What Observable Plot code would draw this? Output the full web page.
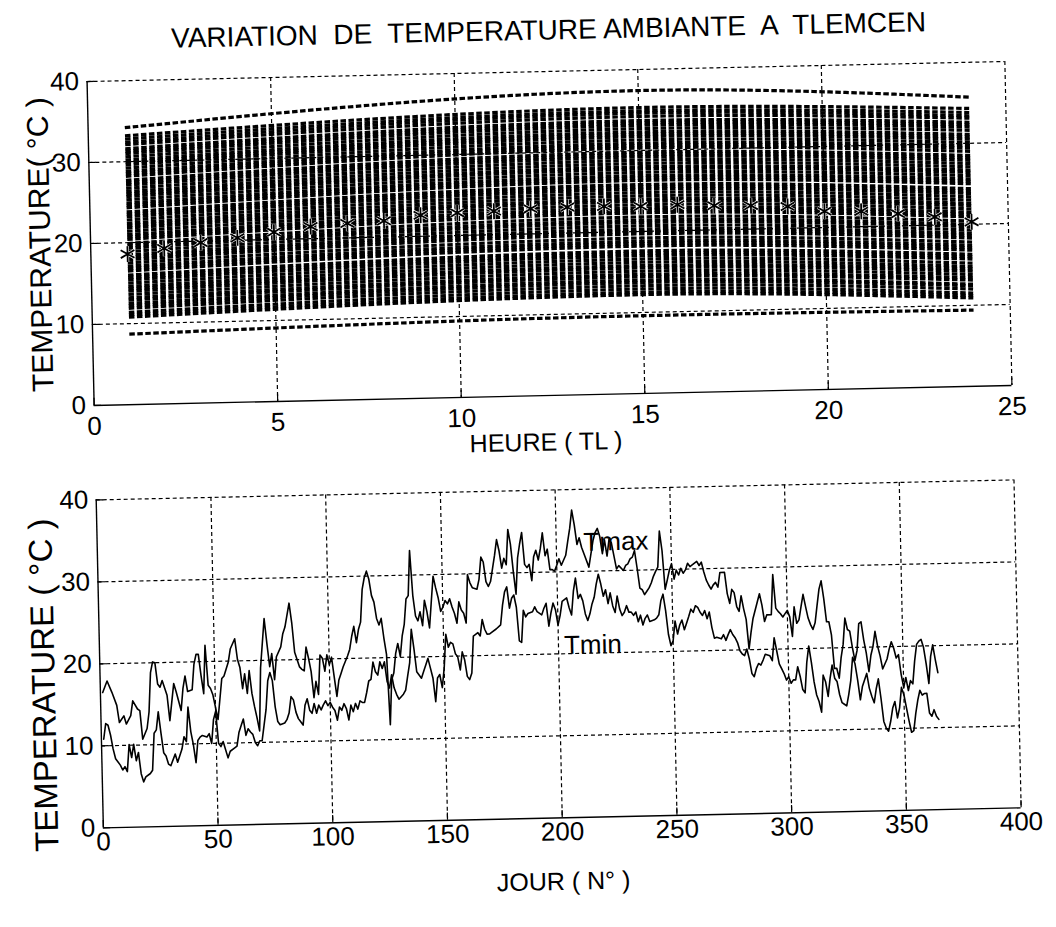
<!DOCTYPE html>
<html>
<head>
<meta charset="utf-8">
<script src="https://cdn.jsdelivr.net/npm/d3@7"></script>
<script src="https://cdn.jsdelivr.net/npm/@observablehq/plot@0.6"></script>
<style>
  html, body { margin: 0; padding: 0; background: #fff; }
  body { width: 1056px; height: 927px; overflow: hidden; }
  #page {
    position: relative; width: 1056px; height: 927px; background: #fff;
    transform: rotate(-1.25deg); transform-origin: 528px 463px;
    font-family: "Liberation Sans", Arial, Helvetica, sans-serif; color: #000;
  }
  #title {
    position: absolute; top: 15px; left: 30px; width: 1056px; text-align: center;
    font-size: 28px; line-height: 32px; white-space: pre;
  }
  #haut { position: absolute; top: 50px; left: 0; }
  #bas { position: absolute; top: 452px; left: 0; }
</style>
</head>
<body>
<div id="page">
  <div id="title">VARIATION  DE  TEMPERATURE AMBIANTE  A  TLEMCEN</div>
  <div id="haut"></div>
  <div id="bas"></div>
</div>
<script>
// ---- Panel 1: hourly temperatures (one dashed curve per day) ----
const heures = [1, 2, 3, 4, 5, 6, 7, 8, 9, 10, 11, 12, 13, 14, 15, 16, 17, 18, 19, 20, 21, 22, 23, 24];
const moyenneHoraire = [18.6, 19.2, 19.8, 20.3, 20.9, 21.5, 21.8, 22.0, 22.6, 22.8, 22.9, 23.1,
                        23.2, 23.2, 23.1, 23.2, 23.0, 22.9, 22.7, 22.0, 21.9, 21.5, 21.0, 20.3];

// Daily curves, read at 1 h, 15 h and 24 h
const heuresReleve = [1, 15, 24];
const temp1h = [8.7,
  10.8, 11.1, 11.4, 11.9, 12.2, 12.5, 12.9, 13.2, 13.6, 14.0, 14.3, 14.6, 15.0, 15.4, 15.7, 16.0,
  16.5, 16.8, 17.1, 17.5, 17.9, 18.2, 18.5, 18.9, 19.3, 19.6, 19.9, 20.4, 20.7, 21.0, 21.4, 21.8,
  22.1, 22.4, 22.8, 23.2, 23.5, 23.8, 24.3, 24.6, 24.9, 25.3, 25.7, 26.0, 26.3, 26.7, 27.1, 27.4,
  27.7, 28.2, 28.5, 28.8, 29.2, 29.6, 29.9, 30.2, 30.6, 31.0, 31.3, 31.6, 32.1, 32.4, 32.8, 33.2,
  34.2];
const temp15h = [9.6,
  12.2, 12.5, 12.9, 13.3, 13.7, 14.0, 14.4, 14.7, 15.1, 15.5, 15.8, 16.2, 16.6, 17.0, 17.3, 17.6,
  18.2, 18.5, 18.8, 19.2, 19.7, 20.0, 20.3, 20.7, 21.1, 21.4, 21.8, 22.3, 22.6, 22.9, 23.3, 23.7,
  24.0, 24.4, 24.8, 25.2, 25.5, 25.8, 26.3, 26.6, 26.9, 27.3, 27.7, 28.0, 28.4, 28.8, 29.2, 29.5,
  29.8, 30.3, 30.6, 30.9, 31.3, 31.7, 32.0, 32.3, 32.7, 33.1, 33.4, 33.7, 34.2, 34.6, 34.9, 35.3,
  37.4];
const temp24h = [9.4,
  10.9, 11.2, 11.5, 12.0, 12.4, 12.6, 13.1, 13.4, 13.8, 14.2, 14.5, 14.8, 15.2, 15.7, 16.0, 16.3,
  16.8, 17.1, 17.4, 17.8, 18.3, 18.6, 18.9, 19.3, 19.7, 20.0, 20.4, 20.9, 21.2, 21.5, 21.9, 22.3,
  22.6, 23.0, 23.4, 23.8, 24.1, 24.4, 25.0, 25.3, 25.6, 26.0, 26.4, 26.7, 27.1, 27.5, 27.9, 28.2,
  28.5, 29.0, 29.4, 29.7, 30.1, 30.5, 30.8, 31.1, 31.6, 32.0, 32.3, 32.6, 33.1, 33.4, 33.8, 34.3,
  35.7];

// ---- Panel 2: daily Tmax / Tmin over the year ----
const jourTmax = [1,3,5,7,8,10,11,13,14,16,17,18,20,21,22,23,24,25,26,27,29,30,32,33,35,36,37,38,40,41,
  42,43,44,45,46,47,48,49,51,53,54,56,57,59,60,61,62,63,64,65,66,67,68,69,70,72,73,74,75,76,
  77,79,80,81,83,84,85,87,88,89,90,91,92,93,94,95,96,97,98,99,100,101,102,103,104,105,106,108,109,110,
  111,112,113,114,115,116,117,118,119,120,121,122,123,124,125,126,127,128,129,130,131,132,133,134,135,136,137,138,139,140,
  141,142,143,144,145,146,147,148,149,150,151,152,153,154,155,156,157,158,159,160,161,162,163,165,166,167,168,169,170,171,
  172,173,174,175,176,177,178,179,180,181,182,183,184,185,186,187,188,189,190,191,192,193,194,195,196,197,198,199,200,201,
  202,204,205,206,207,208,209,210,211,212,214,215,216,217,218,219,220,221,222,223,224,225,226,227,229,230,231,232,233,234,
  235,236,237,238,239,240,241,242,243,244,245,246,247,248,249,250,251,252,253,254,255,256,257,258,260,261,262,263,264,265,
  266,267,268,269,270,271,273,274,275,276,277,278,279,280,281,282,283,284,285,287,288,289,290,291,293,294,295,296,297,298,
  299,300,301,302,303,304,305,306,307,308,309,310,311,312,313,314,315,316,317,318,319,320,321,322,323,324,325,326,327,328,
  329,330,331,332,333,334,335,336,337,338,339,340,341,343,344,345,346,347,348,349,350,351,352,353,354,355,356,357,358,359,
  360,361,362,363,364,365];
const tmax = [16.5,17.9,16.5,14.9,12.8,13.6,12.6,13.6,15.4,14.4,14.2,10.7,12.0,14.0,18.8,20.1,20.0,17.4,17.0,17.8,16.0,12.9,17.4,16.4,14.1,16.8,18.3,16.4,16.6,19.7,
  20.9,20.9,18.3,16.1,22.0,17.1,16.7,15.9,12.9,17.9,18.2,19.9,21.5,22.7,20.2,19.2,16.6,18.4,16.0,18.8,16.0,14.4,13.0,11.4,19.1,25.1,22.0,19.2,20.8,17.6,
  20.4,21.6,23.2,24.0,26.9,24.5,20.9,19.1,18.8,18.6,21.5,20.1,18.5,15.3,17.3,15.7,20.5,20.1,18.5,20.5,19.3,20.2,17.8,15.4,17.4,18.2,19.0,20.3,21.1,22.7,
  23.9,21.9,23.5,24.4,28.4,29.8,30.6,29.6,27.6,26.8,24.8,24.0,24.8,22.4,20.4,11.8,17.3,18.1,20.5,21.7,20.1,22.6,24.0,27.1,27.5,33.0,27.5,25.0,24.4,25.5,
  23.8,26.9,25.5,23.5,26.7,29.8,28.4,27.2,25.5,26.0,26.8,26.4,27.0,26.0,25.2,24.0,26.6,25.6,25.2,24.0,29.9,28.9,28.3,28.1,29.3,32.0,31.4,29.0,28.4,29.0,
  30.6,32.2,34.1,32.7,30.6,31.8,31.0,35.3,33.5,30.2,27.4,31.8,33.5,34.9,31.0,30.6,31.0,29.0,31.9,32.7,31.5,32.9,34.8,32.0,32.8,30.3,30.3,30.1,30.8,31.6,
  30.8,32.0,33.7,35.3,37.5,35.7,33.3,34.1,32.9,32.1,30.5,32.1,33.7,34.7,35.2,34.2,32.1,33.8,31.8,33.8,33.4,31.8,30.2,30.6,30.0,30.6,30.8,31.4,31.6,32.4,
  30.2,27.8,27.6,27.0,27.4,27.8,28.4,29.2,29.8,30.3,34.7,32.3,27.6,28.7,29.9,30.7,28.8,29.9,29.3,30.1,29.5,29.9,30.7,30.3,30.7,30.9,30.4,30.8,29.6,28.6,
  28.0,27.5,28.0,28.3,27.7,29.5,29.5,26.9,25.7,27.4,27.0,25.3,24.7,26.6,25.0,23.7,20.1,22.1,23.8,25.8,26.8,25.4,23.4,24.2,24.2,29.1,25.0,24.6,24.3,23.9,
  24.3,24.7,23.9,21.5,25.1,23.1,23.5,25.1,26.6,25.1,23.7,22.9,22.3,23.1,25.2,27.2,28.2,26.0,23.2,23.2,21.6,17.5,17.5,16.3,18.8,20.4,23.6,22.2,22.0,20.0,
  18.4,19.6,22.9,23.1,20.9,19.3,17.0,19.0,20.1,21.9,20.1,18.9,17.3,18.5,19.7,20.6,19.8,18.6,19.0,16.6,15.0,16.2,14.6,15.8,15.4,18.2,20.2,20.6,20.8,19.8,
  17.8,15.4,18.7,20.1,18.3,16.7];

const jourTmin = [1,2,3,4,5,6,8,9,10,11,12,13,14,15,16,17,18,19,21,22,23,24,25,26,27,28,29,30,32,33,
  35,36,37,38,39,40,41,42,43,44,46,47,48,49,50,51,52,53,55,56,58,59,60,61,62,63,64,65,66,67,
  68,69,70,72,73,74,75,76,77,78,80,81,82,83,84,85,86,87,88,89,90,91,92,93,94,95,96,97,98,99,
  100,101,102,103,104,105,106,107,108,109,110,111,112,113,114,115,116,117,118,119,120,121,122,123,124,125,126,127,128,129,
  130,132,133,134,135,136,137,138,139,140,141,142,143,144,145,146,147,148,149,150,151,152,153,154,155,156,157,158,159,160,
  161,162,163,165,166,167,168,169,170,171,173,175,176,177,178,179,180,181,182,183,184,185,186,187,189,190,191,193,194,195,
  196,197,198,199,200,201,202,204,205,206,207,208,209,210,211,212,213,214,215,216,217,218,219,220,221,222,223,224,225,226,
  227,228,229,230,231,232,233,234,235,236,237,238,239,240,242,243,244,245,246,247,248,249,250,251,252,253,254,255,256,257,
  258,259,260,261,262,263,264,265,266,267,268,269,271,272,273,274,275,276,277,278,279,280,281,282,283,284,285,286,287,288,
  289,290,292,293,294,295,296,297,298,299,300,301,302,303,304,305,306,307,308,309,310,311,312,313,314,315,316,317,318,319,
  320,321,322,323,324,325,326,327,328,329,330,331,332,333,334,335,336,337,338,339,340,341,342,343,344,345,346,347,348,349,
  350,351,352,353,354,355,356,357,358,359,360,361,362,363,364,365];
const tmin = [10.8,12.7,12.5,11.3,9.6,8.4,7.6,7.0,7.4,6.8,10.1,8.5,10.1,8.1,9.1,6.5,5.5,6.1,6.5,6.9,11.4,11.8,14.0,11.4,9.0,8.6,7.6,7.4,8.8,7.8,
  9.4,10.9,10.3,14.5,11.5,9.9,7.7,10.4,10.8,11.0,10.8,11.2,10.0,12.9,13.9,10.0,9.6,10.2,8.2,9.0,9.4,9.6,11.3,12.1,12.9,10.9,11.7,11.3,11.0,10.0,
  9.6,10.2,10.2,14.0,17.5,18.5,17.5,14.3,12.5,12.1,12.3,12.7,13.5,15.5,15.1,13.6,12.8,12.4,12.0,14.4,15.2,13.8,13.4,14.6,13.4,14.4,13.8,14.4,14.9,14.3,
  14.7,14.1,13.7,12.5,14.1,13.7,14.5,13.9,12.5,14.3,13.5,14.5,13.8,14.8,14.6,14.6,15.8,17.2,17.4,19.5,18.3,17.9,19.5,18.7,19.5,17.1,16.3,17.9,16.3,15.5,
  14.9,15.5,16.0,17.7,19.3,23.4,21.0,18.2,17.8,17.4,18.2,19.0,19.8,18.6,17.4,14.5,17.4,17.8,16.2,18.6,22.7,21.1,21.7,21.5,20.3,19.9,18.3,20.5,19.5,17.5,
  17.1,17.9,22.4,22.8,22.4,24.4,23.2,22.6,22.6,22.8,23.2,23.7,26.1,27.7,28.3,25.7,26.9,27.3,25.8,21.7,21.5,25.4,24.6,25.0,25.2,25.8,25.2,24.8,25.6,26.2,
  23.4,25.0,26.2,25.4,23.5,24.7,26.4,26.8,25.6,24.7,27.6,29.2,26.7,27.2,26.4,24.8,24.0,24.8,26.0,26.8,28.4,29.6,28.4,26.9,27.7,26.0,27.3,25.7,24.9,26.9,
  25.3,24.5,24.9,25.7,24.9,24.9,24.5,24.9,23.7,24.5,23.3,24.1,24.5,23.7,23.9,24.1,24.5,26.2,27.0,25.0,22.1,20.7,21.3,23.7,22.1,23.2,23.8,22.6,23.4,24.2,
  25.1,24.7,25.5,25.3,24.7,24.3,24.9,23.9,24.7,22.8,21.5,21.6,21.4,21.9,21.2,21.9,22.5,21.9,21.5,20.9,19.9,19.5,19.3,20.1,18.9,17.1,16.7,17.7,18.3,18.1,
  18.7,19.4,19.2,18.6,21.4,19.8,18.2,17.6,17.0,16.2,16.6,15.8,16.2,16.2,17.8,16.6,15.0,14.6,18.3,20.3,18.3,15.9,14.3,13.5,12.2,16.7,15.9,14.1,16.3,17.9,
  16.3,15.9,14.3,13.3,13.1,12.9,14.3,16.0,18.8,18.0,16.0,13.6,15.2,16.0,16.8,15.0,14.0,13.2,14.9,16.1,13.7,10.9,10.1,9.7,10.9,12.5,13.3,11.3,12.5,15.0,
  14.1,12.5,10.9,9.5,9.7,11.8,13.4,14.6,14.0,14.2,14.2,11.8,11.4,12.2,11.4,11.0];

const ticksHeure = [0, 5, 10, 15, 20, 25];
const ticksJour = [0, 50, 100, 150, 200, 250, 300, 350, 400];
const ticksTemp = [0, 10, 20, 30, 40];

// ---- shared styling ----
const police = '"Liberation Sans", Arial, Helvetica, sans-serif';
const grille = {stroke: "#000", strokeOpacity: 1, strokeWidth: 1.2, strokeDasharray: "4,3"};
const styleSvg = {fontFamily: police, fontSize: "26px", color: "#000", background: "transparent", overflow: "visible"};

// Long table of the daily curves
const courbes = [];
temp1h.forEach((v, i) => {
  [temp1h[i], temp15h[i], temp24h[i]].forEach((t, k) => courbes.push({jour: i, heure: heuresReleve[k], t}));
});
const moyennes = heures.map((h, i) => ({heure: h, t: moyenneHoraire[i]}));

const haut = Plot.plot({
  width: 1056, height: 430,
  marginLeft: 95, marginRight: 43, marginTop: 21.5, marginBottom: 84.5,
  style: styleSvg,
  x: {domain: [0, 25]},
  y: {domain: [0, 40]},
  marks: [
    Plot.gridX(ticksHeure.filter(d => d > 0), grille),
    Plot.gridY(ticksTemp.filter(d => d > 0), grille),
    Plot.line(courbes, {x: "heure", y: "t", z: "jour", stroke: "#000", strokeWidth: 3.2,
                        strokeDasharray: "5.5,2.5", strokeLinecap: "butt", curve: "monotone-x"}),
    Plot.dot(moyennes, {x: "heure", y: "t", symbol: "asterisk", r: 7.5, stroke: "#fff", strokeWidth: 3}),
    Plot.dot(moyennes, {x: "heure", y: "t", symbol: "asterisk", r: 7.5, stroke: "#000", strokeWidth: 1.8}),
    Plot.ruleX([0], {stroke: "#000", strokeWidth: 1.4}),
    Plot.ruleY([0], {stroke: "#000", strokeWidth: 1.4}),
    Plot.ruleX(ticksHeure, {x: d => d, y1: 0, y2: 0.9, stroke: "#000", strokeWidth: 1.2}),
    Plot.ruleY(ticksTemp, {y: d => d, x1: 0, x2: 0.2, stroke: "#000", strokeWidth: 1.2}),
    Plot.axisX(ticksHeure, {tickSize: 0, tickPadding: 11, label: null}),
    Plot.axisY(ticksTemp, {tickSize: 0, tickPadding: 8, label: null}),
    Plot.text(["HEURE ( TL )"], {text: d => d, frameAnchor: "bottom", lineAnchor: "middle", dy: 47, dx: -8, fontSize: 25}),
    Plot.text(["TEMPERATURE( °C )"], {text: d => d, frameAnchor: "left", textAnchor: "middle", lineAnchor: "middle",
                                      dx: -50, rotate: -90, fontSize: 30})
  ]
});
document.getElementById("haut").append(haut);

const serieMax = jourTmax.map((j, i) => ({jour: j, t: tmax[i]}));
const serieMin = jourTmin.map((j, i) => ({jour: j, t: tmin[i]}));
const etiquettes = [
  {nom: "Tmax", jour: 226, t: 33.5},
  {nom: "Tmin", jour: 215, t: 21.0}
];

const bas = Plot.plot({
  width: 1056, height: 475,
  marginLeft: 95, marginRight: 43, marginTop: 38, marginBottom: 109,
  style: styleSvg,
  x: {domain: [0, 400]},
  y: {domain: [0, 40]},
  marks: [
    Plot.gridX(ticksJour.filter(d => d > 0), grille),
    Plot.gridY(ticksTemp.filter(d => d > 0), grille),
    Plot.line(serieMax, {x: "jour", y: "t", stroke: "#000", strokeWidth: 1.6}),
    Plot.line(serieMin, {x: "jour", y: "t", stroke: "#000", strokeWidth: 1.6}),
    Plot.ruleX([0], {stroke: "#000", strokeWidth: 1.4}),
    Plot.ruleY([0], {stroke: "#000", strokeWidth: 1.4}),
    Plot.ruleX(ticksJour, {x: d => d, y1: 0, y2: 0.9, stroke: "#000", strokeWidth: 1.2}),
    Plot.ruleY(ticksTemp, {y: d => d, x1: 0, x2: 3.2, stroke: "#000", strokeWidth: 1.2}),
    Plot.axisX(ticksJour, {tickSize: 0, tickPadding: 4, label: null}),
    Plot.axisY(ticksTemp, {tickSize: 0, tickPadding: 8, label: null}),
    Plot.text(etiquettes, {x: "jour", y: "t", text: "nom", fontSize: 26}),
    Plot.text(["JOUR ( N° )"], {text: d => d, frameAnchor: "bottom", lineAnchor: "middle", dy: 64, fontSize: 25}),
    Plot.text(["TEMPERATURE ( °C )"], {text: d => d, frameAnchor: "left", textAnchor: "middle", lineAnchor: "middle",
                                       dx: -56, dy: 20, rotate: -90, fontSize: 33})
  ]
});
document.getElementById("bas").append(bas);
</script>
</body>
</html>
